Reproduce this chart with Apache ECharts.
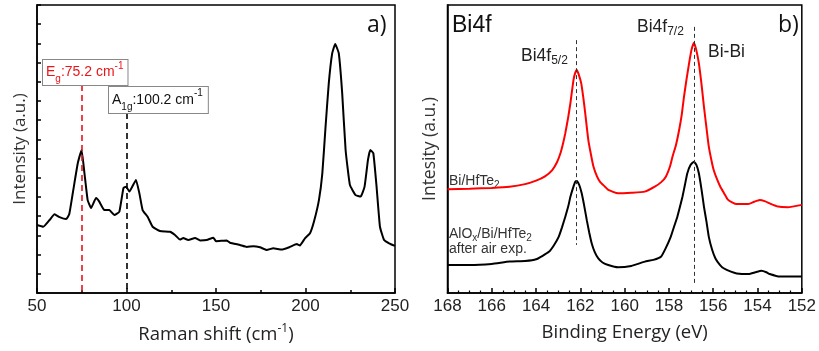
<!DOCTYPE html>
<html>
<head>
<meta charset="utf-8">
<script src="https://cdn.jsdelivr.net/npm/echarts@6/dist/echarts.min.js"></script>
<style>html,body{margin:0;padding:0;background:#fff}#c{width:819px;height:351px}</style>
</head>
<body>
<div id="c"></div>
<script>
// ---- Panel a) Raman ----
const ramanShift = [50,53.5,57,59.8,62.6,66.3,68,70,72.8,74.9,76.5,78.3,80.2,83,84.8,87.6,90.4,93.2,96,98.3,99.8,101.6,105.3,107.2,109,111.8,114.6,118.7,124.3,127.1,129.9,131.7,134.5,138.3,141.1,144.8,148.5,150,156,157.8,163.4,167.2,170.8,174.6,178.3,182,186.7,191.3,195.1,196.9,199.7,202.5,204.7,207.5,209.4,211.2,213,214.9,216.6,218.6,220.5,222.4,224.8,228,230.8,233,234.9,236.2,237.9,239.7,241.6,243.9,246.7,250];
const ramanIntensity = [3.54,3.45,3.80,4.10,3.95,3.85,4.10,5.21,6.77,7.45,6.25,4.84,4.43,4.95,4.76,4.32,4.32,4.06,4.23,5.47,5.54,5.28,5.89,5.19,4.32,3.97,3.45,3.23,3.19,3.02,2.78,2.86,2.76,2.86,2.74,2.76,2.88,2.70,2.74,2.62,2.50,2.40,2.44,2.38,2.24,2.33,2.26,2.40,2.55,2.48,2.85,3.11,3.71,4.84,6.23,8.66,10.92,12.48,12.97,12.48,10.40,7.45,5.63,5.10,5.02,5.54,6.93,7.45,7.28,5.54,3.45,2.76,2.59,2.45];
const ramanModes = [75.2, 100.2];
const ramanTicks = [50,100,150,200,250];

// ---- Panel b) XPS Bi4f ----
const beRed = [168,167,166,165.2,164.5,164.0,163.6,163.27,163.05,162.9,162.78,162.68,162.55,162.45,162.31,162.23,162.16,162.08,161.96,161.87,161.78,161.64,161.52,161.41,161.25,161.11,160.9,160.74,160.3,159.7,159.09,158.64,158.35,158.14,157.95,157.84,157.68,157.54,157.42,157.32,157.2,157.09,156.98,156.87,156.77,156.65,156.53,156.42,156.3,156.2,156.08,155.98,155.83,155.68,155.5,155.35,155.15,154.94,154.41,154.15,153.9,153.65,153.45,153.07,152.63,152];
const redIntensity = [3.60,3.62,3.65,3.69,3.78,3.90,4.05,4.27,4.55,4.85,5.20,5.55,6.10,6.59,7.40,7.65,7.74,7.60,7.28,6.80,6.24,5.31,4.80,4.39,4.05,3.86,3.70,3.58,3.46,3.48,3.52,3.69,3.85,4.04,4.40,4.73,5.15,5.66,6.20,6.82,7.45,7.98,8.45,8.69,8.45,7.98,7.25,6.47,5.70,5.08,4.60,4.27,3.95,3.69,3.45,3.25,3.15,3.09,3.09,3.17,3.23,3.18,3.11,3.00,2.98,3.06];
const beBlack = [168,167,166,165.2,164.5,164.0,163.42,163.2,162.98,162.83,162.68,162.55,162.45,162.33,162.23,162.16,162.05,161.94,161.82,161.71,161.6,161.49,161.35,161.19,161.0,160.74,160.3,159.7,159.09,158.7,158.36,158.15,157.92,157.77,157.62,157.5,157.39,157.28,157.17,157.02,156.87,156.76,156.65,156.53,156.42,156.3,156.2,156.05,155.9,155.7,155.53,155.2,154.94,154.4,154.1,153.82,153.6,153.45,153.0,152];
const blackIntensity = [0.97,0.97,1.01,1.09,1.11,1.17,1.43,1.65,1.95,2.28,2.65,3.00,3.34,3.65,3.86,3.89,3.75,3.46,3.00,2.53,2.10,1.73,1.42,1.20,1.06,0.97,0.89,0.94,1.09,1.15,1.26,1.55,1.95,2.30,2.65,3.00,3.34,3.75,4.16,4.45,4.56,4.45,4.16,3.60,3.00,2.45,1.95,1.50,1.20,0.98,0.86,0.74,0.68,0.66,0.72,0.77,0.72,0.66,0.57,0.57];
const peakBE = [162.2, 156.85];
const beTicks = [168,166,164,162,160,158,156,154,152];

const FONT = '"Liberation Sans", Arial, sans-serif';
const FONT2 = '"Open Sans", "Liberation Sans", sans-serif';

const chart = echarts.init(document.getElementById('c'));
const zip = (a, b) => a.map((v, i) => [v, b[i]]);

const axisLineStyle = {show: true, lineStyle: {color: '#000', width: 1.5}};
const dashed = (x, y0, y1, color, w, dash) => ({
  silent: true, symbol: 'none', label: {show: false},
  lineStyle: {color: color, type: dash, width: w},
  data: [[{coord: [x, y0]}, {coord: [x, y1]}]]
});

chart.setOption({
  animation: false,
  grid: [
    {left: 37, top: 5, width: 358, height: 288, show: true, borderColor: '#000', borderWidth: 1.5, backgroundColor: 'transparent'},
    {left: 447.5, top: 5, width: 358, height: 288, show: true, borderColor: '#000', borderWidth: 1.5, backgroundColor: 'transparent'}
  ],
  xAxis: [
    {gridIndex: 0, type: 'value', min: ramanTicks[0], max: ramanTicks[ramanTicks.length-1], interval: 50,
     axisLine: axisLineStyle, axisTick: {inside: true, length: 5, lineStyle: {color: '#000', width: 1.5}},
     minorTick: {show: true, splitNumber: 2, length: 3, lineStyle: {color: '#000', width: 1.5}},
     splitLine: {show: false},
     axisLabel: {color: '#222', fontSize: 17, fontFamily: FONT, margin: 5},
     name: '{a|Raman shift (cm}{p|-1}{a|)}', nameLocation: 'middle', nameGap: 30,
     nameTextStyle: {rich: {a: {fontSize: 18.5, fontFamily: FONT2, color: '#222', lineHeight: 24, verticalAlign: 'middle'},
                            p: {fontSize: 12, fontFamily: FONT2, color: '#222', lineHeight: 24, verticalAlign: 'top'}}}},
    {gridIndex: 1, type: 'value', min: 152, max: 168, interval: 2, inverse: true,
     axisLine: axisLineStyle, axisTick: {inside: true, length: 5, lineStyle: {color: '#000', width: 1.5}},
     minorTick: {show: true, splitNumber: 4, length: 2.5, lineStyle: {color: '#000', width: 1.2}},
     splitLine: {show: false},
     axisLabel: {color: '#222', fontSize: 17, fontFamily: FONT, margin: 5},
     name: 'Binding Energy (eV)', nameLocation: 'middle', nameGap: 30,
     nameTextStyle: {fontSize: 18.5, fontFamily: FONT2, color: '#222'}}
  ],
  yAxis: [
    {gridIndex: 0, type: 'value', min: 0, max: 15, interval: 1,
     axisLine: axisLineStyle, axisTick: {inside: true, length: 4, lineStyle: {color: '#000', width: 1.5}},
     axisLabel: {show: false}, splitLine: {show: false},
     name: 'Intensity (a.u.)', nameLocation: 'middle', nameGap: 8,
     nameTextStyle: {fontSize: 17, fontFamily: FONT2, color: '#333'}},
    {gridIndex: 1, type: 'value', min: 0, max: 10,
     axisLine: axisLineStyle, axisTick: {show: false},
     axisLabel: {show: false}, splitLine: {show: false},
     name: 'Intesity (a.u.)', nameLocation: 'middle', nameGap: 8,
     nameTextStyle: {fontSize: 17.5, fontFamily: FONT2, color: '#333'}}
  ],
  series: [
    {type: 'line', xAxisIndex: 0, yAxisIndex: 0, data: zip(ramanShift, ramanIntensity), showSymbol: false, smooth: 0.12,
     lineStyle: {color: '#000', width: 2}, z: 3,
     markLine: dashed(ramanModes[0], 10.83, 0, '#e8151b', 1.6, [6, 4])},
    {type: 'line', xAxisIndex: 0, yAxisIndex: 0, data: [], showSymbol: false,
     markLine: dashed(ramanModes[1], 9.375, 0, '#000', 1.6, [6, 4])},
    {type: 'line', xAxisIndex: 1, yAxisIndex: 1, data: zip(beRed, redIntensity), showSymbol: false, smooth: 0.15,
     lineStyle: {color: '#f00', width: 2}, z: 3,
     markLine: dashed(peakBE[0], 8.78, 1.67, '#333', 1, [4, 3])},
    {type: 'line', xAxisIndex: 1, yAxisIndex: 1, data: zip(beBlack, blackIntensity), showSymbol: false, smooth: 0.15,
     lineStyle: {color: '#000', width: 2}, z: 3,
     markLine: dashed(peakBE[1], 9.24, 0.35, '#333', 1, [4, 3])}
  ],
  graphic: [
    {type: 'text', x: 367, y: 25, style: {text: 'a)', font: '23px ' + FONT2, fill: '#111', verticalAlign: 'middle'}},
    {type: 'text', x: 778, y: 25, style: {text: 'b)', font: '23px ' + FONT2, fill: '#111', verticalAlign: 'middle'}},
    {type: 'text', x: 452, y: 26, style: {text: 'Bi4f', font: '23px ' + FONT, fill: '#111', verticalAlign: 'middle'}},
    {type: 'text', x: 43, y: 60, z: 10, style: {
      text: '{n|E}{s|g}{n|:75.2 cm}{p|-1}',
      backgroundColor: '#fff', borderColor: '#888', borderWidth: 1, padding: [1, 4, 1, 3],
      rich: {n: {fontSize: 14, fontFamily: FONT, fill: '#e8151b', lineHeight: 23, verticalAlign: 'middle'},
             s: {fontSize: 10, fontFamily: FONT, fill: '#e8151b', lineHeight: 23, verticalAlign: 'bottom'},
             p: {fontSize: 10, fontFamily: FONT, fill: '#e8151b', lineHeight: 23, verticalAlign: 'top'}}}},
    {type: 'text', x: 109, y: 87, z: 10, style: {
      text: '{n|A}{s|1g}{n|:100.2 cm}{p|-1}',
      backgroundColor: '#fff', borderColor: '#888', borderWidth: 1, padding: [1, 5, 1, 3],
      rich: {n: {fontSize: 14, fontFamily: FONT, fill: '#111', lineHeight: 24, verticalAlign: 'middle'},
             s: {fontSize: 10, fontFamily: FONT, fill: '#111', lineHeight: 24, verticalAlign: 'bottom'},
             p: {fontSize: 10, fontFamily: FONT, fill: '#111', lineHeight: 24, verticalAlign: 'top'}}}},
    {type: 'text', x: 521, y: 45, style: {
      text: '{n|Bi4f}{s|5/2}',
      rich: {n: {fontSize: 17.5, fontFamily: FONT, fill: '#222', lineHeight: 22, verticalAlign: 'middle'},
             s: {fontSize: 12, fontFamily: FONT, fill: '#222', lineHeight: 22, verticalAlign: 'bottom'}}}},
    {type: 'text', x: 637, y: 16, style: {
      text: '{n|Bi4f}{s|7/2}',
      rich: {n: {fontSize: 17.5, fontFamily: FONT, fill: '#222', lineHeight: 22, verticalAlign: 'middle'},
             s: {fontSize: 12, fontFamily: FONT, fill: '#222', lineHeight: 22, verticalAlign: 'bottom'}}}},
    {type: 'text', x: 708, y: 52, style: {text: 'Bi-Bi', font: '17.5px ' + FONT, fill: '#222', verticalAlign: 'middle'}},
    {type: 'text', x: 449, y: 172, style: {
      text: '{n|Bi/HfTe}{s|2}',
      rich: {n: {fontSize: 14, fontFamily: FONT, fill: '#333', lineHeight: 18, verticalAlign: 'middle'},
             s: {fontSize: 10, fontFamily: FONT, fill: '#333', lineHeight: 18, verticalAlign: 'bottom'}}}},
    {type: 'text', x: 449, y: 225, style: {
      text: '{n|AlO}{s|x}{n|/Bi/HfTe}{s|2}',
      rich: {n: {fontSize: 14, fontFamily: FONT, fill: '#333', lineHeight: 18, verticalAlign: 'middle'},
             s: {fontSize: 10, fontFamily: FONT, fill: '#333', lineHeight: 18, verticalAlign: 'bottom'}}}},
    {type: 'text', x: 449, y: 242, style: {text: 'after air exp.', font: '14px ' + FONT, fill: '#333'}}
  ]
});
</script>
</body>
</html>
